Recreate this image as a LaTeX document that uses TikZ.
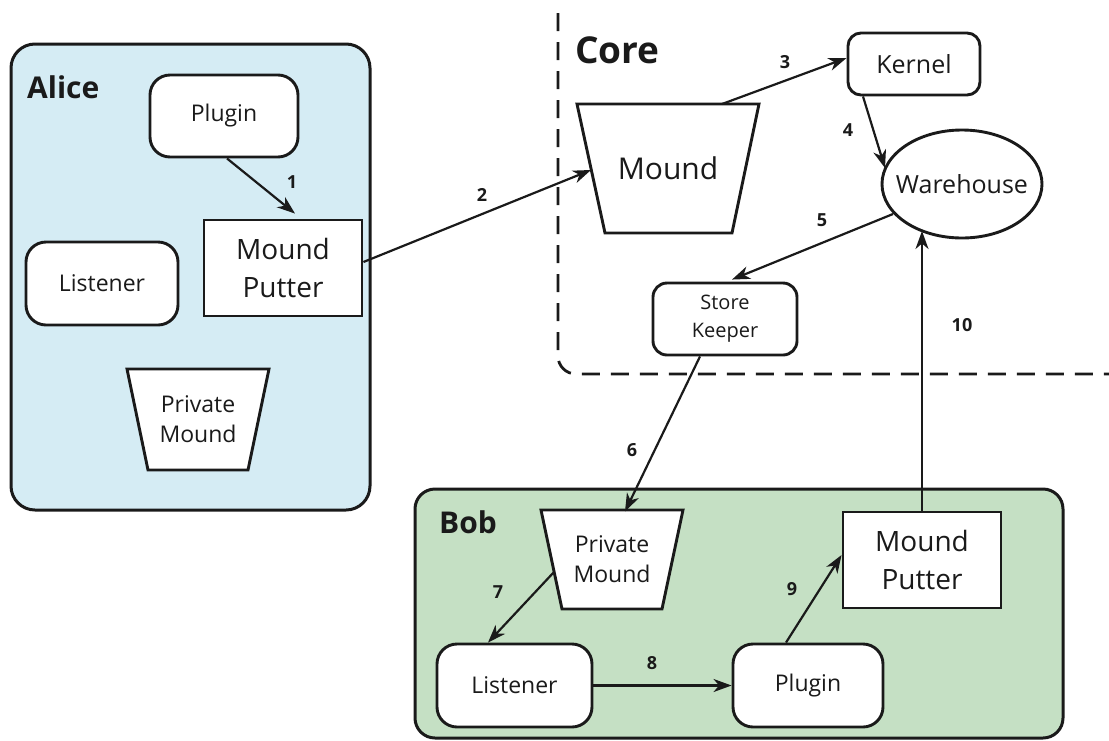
\documentclass[tikz,border=0pt]{standalone}
\usepackage{fontspec}
\setmainfont{Open Sans}
\usetikzlibrary{arrows.meta,calc,shapes.geometric}

\definecolor{aliceblue}{HTML}{D5ECF4}
\definecolor{bobgreen}{HTML}{C5E0C4}
\definecolor{ink}{HTML}{1A1A1A}

\begin{document}
\begin{tikzpicture}[x=1pt,y=-1pt, color=ink,
  group/.style={line width=3pt, rounded corners=#1},
  group/.default=24,
  title/.style={anchor=base west, inner sep=0pt, font=\bfseries\fontsize{30}{34}\selectfont},
  box/.style={draw, fill=white, line width=2.9pt, rounded corners=#1, align=center, inner sep=0pt},
  box/.default=20,
  trap/.style={draw, fill=white, line width=2.9pt, line join=miter},
  txt/.style={align=center, inner sep=0pt},
  small/.style={font=\fontsize{23}{30}\selectfont},
  big/.style={font=\fontsize{28}{38}\selectfont},
  arr/.style={line width=2.2pt, -{Stealth[length=18pt,width=13pt,inset=5.5pt]}},
  num/.style={inner sep=0pt, font=\bfseries\fontsize{18}{20}\selectfont},
  coredash/.style={line width=2.8pt, dash pattern=on 18pt off 11pt, rounded corners=18}
]
\useasboundingbox (0,0) rectangle (1109,740);

% ---- Core (dashed region) ----
\draw[coredash] (558,13) -- (558,374) -- (1109,374);
\node[title, font=\bfseries\fontsize{37}{44}\selectfont] (coret) at (575,63) {Core};

% ---- Alice ----
\draw[group, fill=aliceblue] (11,44) rectangle (370,510);
\node[title] (alicet) at (27,98) {Alice};
\node[box, small, minimum width=148, minimum height=82] (plugA) at (224,116) {Plugin};
\node[box=0, big, minimum width=158, minimum height=96] (putterA) at (283,268) {Mound\\Putter};
\node[box, small, minimum width=152, minimum height=83] (listA) at (102,283.5) {Listener};
\draw[trap] (127,369) -- (269,369) -- (248,470) -- (148,470) -- cycle;
\node[txt, small] (pmA) at (198,419.5) {Private\\Mound};

% ---- Core contents ----
\draw[trap] (577,104) -- (759,104) -- (732,233) -- (605,233) -- cycle;
\node[txt, font=\fontsize{30}{38}\selectfont] (moundC) at (668,168.5) {Mound};
\node[box=13, font=\fontsize{25}{30}\selectfont, minimum width=132, minimum height=62] (kernel) at (914,64) {Kernel};
\node[draw, ellipse, line width=2.9pt, fill=white, minimum width=160, minimum height=108, inner sep=0pt] (wh) at (962,184) {};
\node[txt, font=\fontsize{25}{30}\selectfont] (whtext) at (wh.center) {Warehouse};
\node[box=14, font=\fontsize{20}{28}\selectfont, minimum width=144, minimum height=72] (keeper) at (725,319) {Store\\Keeper};

% ---- Bob ----
\draw[group=20, fill=bobgreen] (415,489) rectangle (1063,738);
\node[title] (bobt) at (439,533) {Bob};
\draw[trap] (541,510) -- (683,510) -- (662,609) -- (562,609) -- cycle;
\node[txt, small] (pmB) at (612,559.5) {Private\\Mound};
\node[box=0, big, minimum width=158, minimum height=96] (putterB) at (922,560) {Mound\\Putter};
\node[box, small, minimum width=155, minimum height=83] (listB) at (514.5,685.5) {Listener};
\node[box, small, minimum width=150, minimum height=83] (plugB) at (808,685.5) {Plugin};

% ---- Flow ----
\draw[arr] ($(plugA.south)+(3,0)$) -- ($(putterA.north)+(12,-5)$);
\node[num] (n1) at (292,182) {1};
\draw[arr] ($(putterA.east)+(0,-6)$) -- ($(moundC.center)+(-77,1.5)$);
\node[num] (n2) at (482,195) {2};
\draw[arr] ($(moundC.center)+(54,-64.5)$) -- ($(kernel.west)+(0,-6)$);
\node[num] (n3) at (785,62) {3};
\draw[arr] ($(kernel.south)+(-51,0)$) -- ($(wh.center)+(-77,-16)$);
\node[num] (n4) at (848,130) {4};
\draw[arr] ($(wh.center)+(-69,30)$) -- ($(keeper.north)+(7,-2)$);
\node[num] (n5) at (822,220) {5};
\draw[arr] ($(keeper.south)+(-25,0)$) -- ($(pmB.center)+(13,-48)$);
\node[num] (n6) at (632,450) {6};
\draw[arr] ($(pmB.center)+(-58,12.5)$) -- ($(listB.north)+(-26.5,0)$);
\node[num] (n7) at (498,592) {7};
\draw[arr] (listB.east) -- (plugB.west);
\node[num] (n8) at (652,663) {8};
\draw[arr] ($(plugB.north)+(-22,0)$) -- ($(putterB.west)+(0,-5)$);
\node[num] (n9) at (792,589) {9};
\draw[arr] (putterB.north) -- ($(wh.center)+(-40,47)$);
\node[num] (n10) at (962,325) {10};
\end{tikzpicture}
\end{document}
